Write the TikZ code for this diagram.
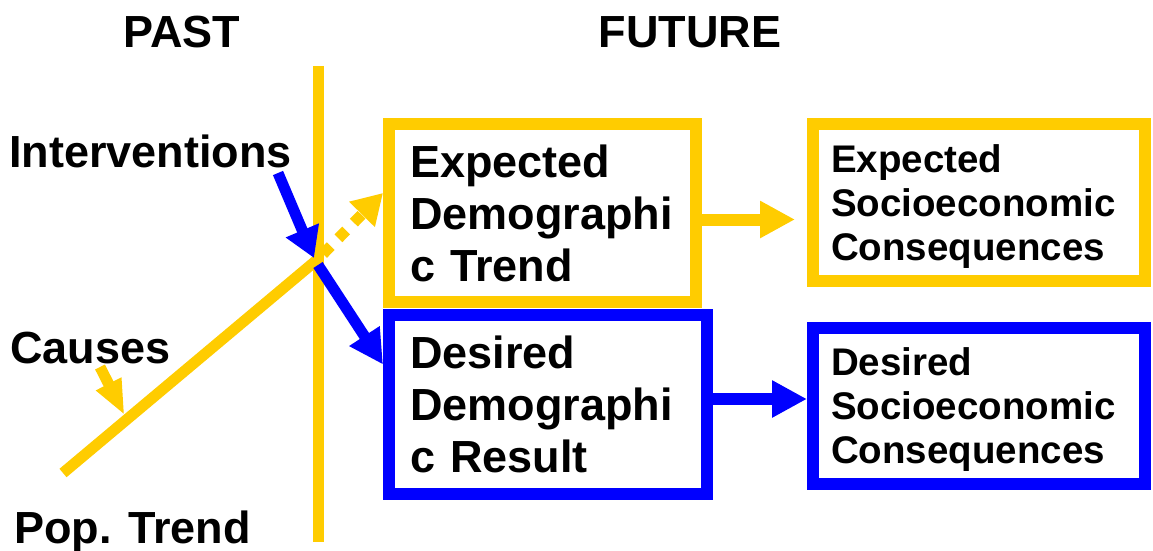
\documentclass[tikz,border=0pt]{standalone}
\usepackage{fontspec}
\setmainfont{Liberation Sans}
\usepackage{xcolor}
\usetikzlibrary{arrows.meta,calc}
\definecolor{gold}{RGB}{255,204,0}
\definecolor{pureblue}{RGB}{0,0,255}
\tikzset{
	header/.style={font=\bfseries\fontsize{45}{52}\selectfont,inner sep=0pt},%
	timeline/.style={gold,line width=11pt},%
	poptrend/.style={gold,line width=11pt},%
	projection/.style={gold,line width=11pt,dash pattern=on 11pt off 11pt},%
	expectedbox/.style={draw=gold,line width=12pt},%
	desiredbox/.style={draw=pureblue,line width=12pt},%
	demobox/.style={align=left,inner sep=0pt,font=\bfseries\fontsize{45}{52}\selectfont},%
	consbox/.style={align=left,inner sep=0pt,text depth=88pt,font=\bfseries\fontsize{38.5}{44}\selectfont},%
	goldarrow/.style={gold,line width=12pt,-{Triangle[length=35pt,width=35pt]}},%
	bluearrow/.style={pureblue,line width=12pt,-{Triangle[length=35pt,width=35pt]}},%
}

\begin{document}
\begin{tikzpicture}[x=1pt,y=-1pt]
		\useasboundingbox (0,0) rectangle (1153,551);
		% Headers {{{
		\node[header,anchor=base] (past) at (182,48) {PAST};
		\node[header,anchor=base] (future) at (690,48) {FUTURE};
		\node[header,anchor=base west] (interv) at (9,167) {Interventions};
		\node[header,anchor=base west] (causes) at (10,363) {Causes};
		\node[header,anchor=base west] (poptr) at (14,543) {Pop. Trend};
		% }}}
		% Boxes {{{
		\node[demobox,expectedbox,minimum width=307pt,minimum height=178pt,text width=265pt] (exp) at (542.5,213) {Expected\\Demographi\\c Trend};
		\node[demobox,desiredbox,minimum width=318pt,minimum height=179pt,text width=276pt] (des) at (548,404.5) {Desired\\Demographi\\c Result};
		\node[consbox,expectedbox,minimum width=332pt,minimum height=157pt,text width=296pt] (expcons) at (979,202.5) {Expected\\Socioeconomic\\Consequences};
		\node[consbox,desiredbox,minimum width=332pt,minimum height=156pt,text width=296pt] (descons) at (979,406) {Desired\\Socioeconomic\\Consequences};
		% }}}
		% Trend and present {{{
		\coordinate (vtop) at (318,66);
		\coordinate (vbot) at (318,542);
		\coordinate (cross) at (318,259);
		\coordinate (trendstart) at (63,473);
		\coordinate (causetip) at ($(trendstart)!0.25!(cross)$);
		\draw[timeline] (vtop) -- (vbot);
		\draw[poptrend] (trendstart) -- (cross);
		\draw[projection,-{Triangle[length=30pt,width=34pt]}] ($(cross)+(5,-5)$) -- ($(exp.west)+(0,-20)$);
		\draw[gold,line width=11pt,-{Triangle[length=35pt,width=26pt]},shorten >=5pt] ($(causes.base west)+(90,4)$) -- (causetip);
		% }}}
		% Consequences {{{
		\coordinate (expmid) at ($(exp.east)+(0,6.5)$);
		\coordinate (desmid) at ($(des.east)+(0,-5.5)$);
		\draw[goldarrow,shorten >=12pt] (expmid) -- (expmid -| expcons.west);
		\draw[bluearrow] (desmid) -- (desmid -| descons.west);
		\draw[pureblue,line width=11pt,-{Triangle[length=30pt,width=34pt]}] ($(interv.base west)+(269,6)$) -- ($(cross)+(-4,-1)$);
		\draw[pureblue,line width=11pt,-{Triangle[length=34pt,width=34pt]}] ($(cross)+(0,6)$) -- ($(des.west)+(0,-40)$);
		% }}}
	\end{tikzpicture}
\end{document}
